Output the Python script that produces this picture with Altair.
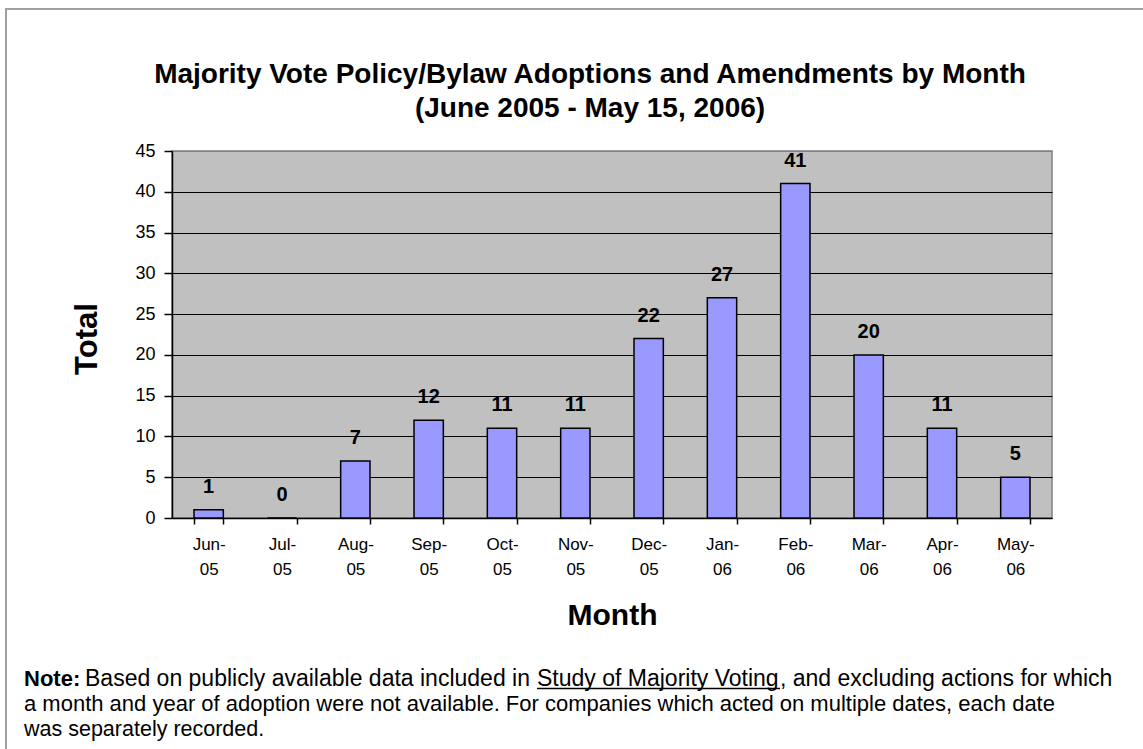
import altair as alt
import pandas as pd

# Monthly counts of majority-vote policy/bylaw adoptions and amendments
months = ["Jun-05", "Jul-05", "Aug-05", "Sep-05", "Oct-05", "Nov-05",
          "Dec-05", "Jan-06", "Feb-06", "Mar-06", "Apr-06", "May-06"]
totals = [1, 0, 7, 12, 11, 11, 22, 27, 41, 20, 11, 5]
y_ticks = [0, 5, 10, 15, 20, 25, 30, 35, 40, 45]

title_lines = ["Majority Vote Policy/Bylaw Adoptions and Amendments by Month",
               "(June 2005 - May 15, 2006)"]
note_label = "Note:"
note_line1_a = "Based on publicly available data included in"
note_link = "Study of Majority Voting"
note_line1_b = ", and excluding actions for which"
note_line2 = ("a month and year of adoption were not available. For companies "
              "which acted on multiple dates, each date")
note_line3 = "was separately recorded."

FONT = "Liberation Sans"
W, H = 880, 367          # plot area
PAD_L, PAD_T = 172, 151  # plot area offset inside the page

df = pd.DataFrame({"Month": months, "Total": totals})

x_enc = alt.X(
    "Month:N", sort=months, title="Month",
    scale=alt.Scale(paddingInner=0.6, paddingOuter=0.3),
    axis=alt.Axis(
        labelExpr="[slice(datum.label, 0, 4), slice(datum.label, 4)]",
        labelAngle=0, labelFont=FONT, labelFontSize=17, labelColor="black",
        labelLineHeight=25, labelPadding=12, labelBaseline="top",
        tickBand="extent", tickSize=6, tickColor="black", tickWidth=1.5,
        domainColor="black", domainWidth=1.5,
        titleFont=FONT, titleFontSize=30, titleFontWeight="bold", titleColor="black",
        titleX=W / 2, titleY=97, titleBaseline="middle", titleAlign="center",
    ),
)
y_enc = alt.Y(
    "Total:Q", title="Total",
    scale=alt.Scale(domain=[0, 45], nice=False),
    axis=alt.Axis(
        values=y_ticks, labelFont=FONT, labelFontSize=18, labelColor="black",
        labelPadding=9, tickSize=8, tickColor="black", tickWidth=1.5,
        domainColor="black", domainWidth=1.5,
        grid=True, gridWidth=1.2,
        gridColor={"condition": {"test": "datum.value === 45", "value": "#808080"},
                   "value": "black"},
        titleFont=FONT, titleFontSize=31, titleFontWeight="bold", titleColor="black",
        titleAngle=-90, titleX=-85, titleY=H / 2 + 4,
        titleBaseline="middle", titleAlign="center",
    ),
)

bars = alt.Chart(df).mark_bar(
    color="#9999FF", stroke="black", strokeWidth=1.5
).encode(x=x_enc, y=y_enc)

value_labels = alt.Chart(df).mark_text(
    font=FONT, fontSize=20, fontWeight="bold", color="black",
    baseline="alphabetic", dy=-17
).encode(x=alt.X("Month:N", sort=months), y="Total:Q", text="Total:Q")

# outer chart frame (runs off the right and bottom edges)
frame = alt.Chart(pd.DataFrame({"k": [0]})).mark_rect(
    fillOpacity=0, stroke="#A0A0A0", strokeWidth=2
).encode(
    x=alt.value(6 - PAD_L), x2=alt.value(1300),
    y=alt.value(9 - PAD_T), y2=alt.value(900),
)


def free_text(text, x_abs, y_abs, size, bold=False, align="left"):
    return alt.Chart(pd.DataFrame({"t": [text]})).mark_text(
        font=FONT, fontSize=size, fontWeight="bold" if bold else "normal",
        color="black", align=align, baseline="alphabetic"
    ).encode(text="t:N", x=alt.value(x_abs - PAD_L), y=alt.value(y_abs - PAD_T))


# chart heading, two centred lines
heading = [
    free_text(title_lines[0], 590, 83, 28, bold=True, align="center"),
    free_text(title_lines[1], 590, 117, 28, bold=True, align="center"),
]

note_y1, note_y2, note_y3 = 686, 711, 736
link_x0, link_x1 = 537, 780
notes = [
    free_text(note_label, 24, note_y1, 22, bold=True),
    free_text(note_line1_a, 85, note_y1, 23),
    free_text(note_link, link_x0, note_y1, 23),
    free_text(note_line1_b, link_x1, note_y1, 23),
    free_text(note_line2, 24, note_y2, 22),
    free_text(note_line3, 24, note_y3, 21.5),
]
underline = alt.Chart(pd.DataFrame({"k": [0]})).mark_rule(
    color="black", strokeWidth=1.3
).encode(
    x=alt.value(link_x0 - PAD_L), x2=alt.value(link_x1 - PAD_L),
    y=alt.value(note_y1 + 2.5 - PAD_T),
)

chart = alt.layer(frame, bars, value_labels, underline, *heading, *notes).properties(
    width=W, height=H,
    autosize=alt.AutoSizeParams(type="none"),
    padding={"left": PAD_L, "top": PAD_T, "right": 1143 - PAD_L - W,
             "bottom": 749 - PAD_T - H},
    background="white",
).configure_view(
    fill="#C0C0C0", stroke="#808080", strokeWidth=1.5
)

chart.save("out.html", embed_options={"renderer": "svg", "actions": False})
